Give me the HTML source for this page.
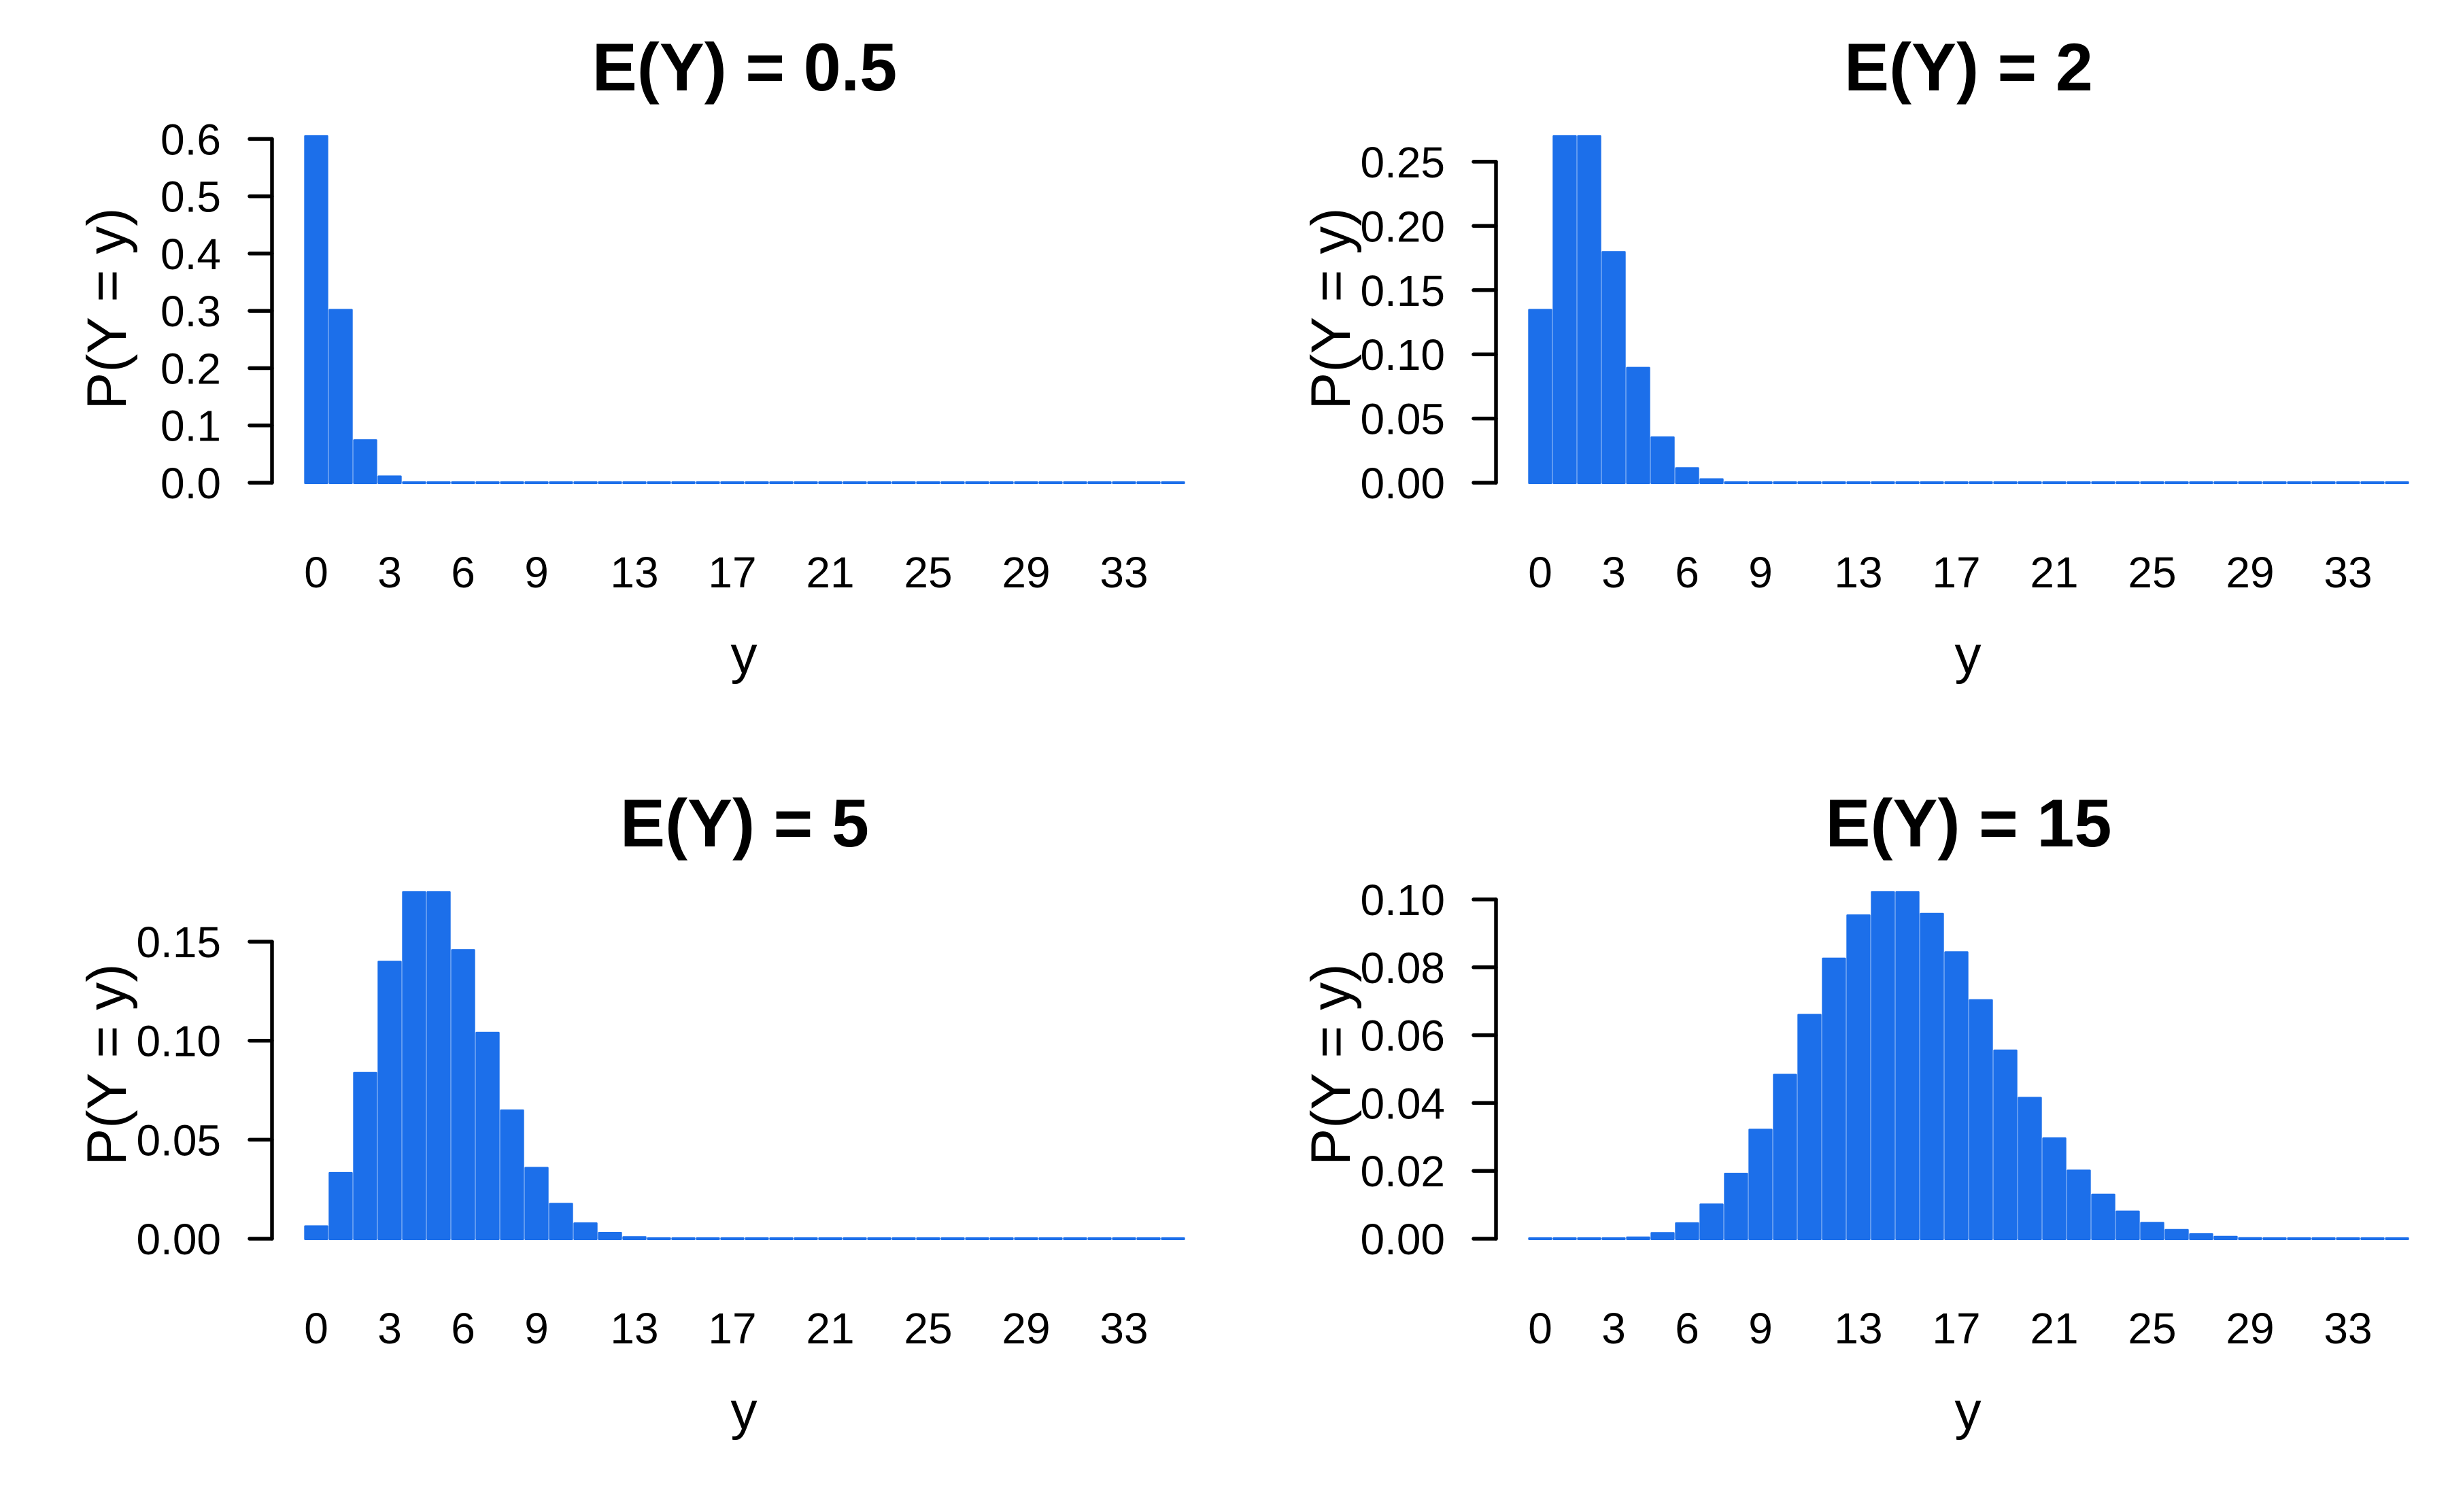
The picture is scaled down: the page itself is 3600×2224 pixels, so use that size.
<!DOCTYPE html>
<html><head><meta charset="utf-8"><style>
html,body{margin:0;padding:0;background:#fff;}
svg{display:block;}
text{font-family:"Liberation Sans",Arial,sans-serif;fill:#000;}
</style></head><body>
<svg id="s" width="3600" height="2224" viewBox="0 0 3600 2224" xmlns="http://www.w3.org/2000/svg"></svg>
<script>
(function(){
var svg=document.getElementById('s');var h='';
function pois(l,k){var p=Math.exp(-l);for(var i=1;i<=k;i++)p*=l/i;return p;}
var panels=[
 {l:0.5,t:'E(Y) = 0.5',ticks:[0,0.1,0.2,0.3,0.4,0.5,0.6],d:1,c:0,r:0},
 {l:2,t:'E(Y) = 2',ticks:[0,0.05,0.1,0.15,0.2,0.25],d:2,c:1,r:0},
 {l:5,t:'E(Y) = 5',ticks:[0,0.05,0.1,0.15],d:2,c:0,r:1},
 {l:15,t:'E(Y) = 15',ticks:[0,0.02,0.04,0.06,0.08,0.1],d:2,c:1,r:1}];
var bw=36.0;
panels.forEach(function(P){
 var ox=P.c*1800, oy=P.r*1112;
 var y0=710+oy, ax=400+ox, bx=447+ox;
 var ps=[],mx=0;for(var k=0;k<36;k++){var p=pois(P.l,k);ps.push(p);if(p>mx)mx=p;}
 var sc=552/(1.08*mx);
 for(var k=0;k<36;k++){
  var top=y0-ps[k]*sc; if(top>y0-2) top=y0-2;
  var x=bx+k*bw;
  h+='<rect x="'+(x+0.3).toFixed(1)+'" y="'+top.toFixed(1)+'" width="'+(bw-0.6).toFixed(1)+'" height="'+(y0+2-top).toFixed(1)+'" rx="1.5" fill="#1c6fea"/>';
 }
 var tmax=P.ticks[P.ticks.length-1];
 var ytop=y0-tmax*sc;
 h+='<line x1="'+ax+'" y1="'+ytop.toFixed(1)+'" x2="'+ax+'" y2="'+y0+'" stroke="#000" stroke-width="5.5" stroke-linecap="round"/>';
 P.ticks.forEach(function(t){
  var y=y0-t*sc;
  h+='<line x1="'+(ax-33)+'" y1="'+y.toFixed(1)+'" x2="'+ax+'" y2="'+y.toFixed(1)+'" stroke="#000" stroke-width="5.5" stroke-linecap="round"/>';
  h+='<text x="'+(ax-75)+'" y="'+(y+23).toFixed(1)+'" font-size="64" text-anchor="end">'+t.toFixed(P.d)+'</text>';
 });
 [0,3,6,9,13,17,21,25,29,33].forEach(function(v){
  h+='<text x="'+(bx+v*bw+bw/2).toFixed(1)+'" y="'+(864+oy)+'" font-size="64" text-anchor="middle">'+v+'</text>';
 });
 h+='<text x="'+(1094+ox)+'" y="'+(990+oy)+'" font-size="78" text-anchor="middle">y</text>';
 h+='<text transform="translate('+(185+ox)+','+(454+oy)+') rotate(-90)" x="0" y="0" font-size="82" text-anchor="middle">P(Y = y)</text>';
 h+='<text x="'+(1095+ox)+'" y="'+(133+oy)+'" font-size="99" font-weight="bold" text-anchor="middle">'+P.t+'</text>';
});
svg.innerHTML=h;
})();
</script>
</body></html>
